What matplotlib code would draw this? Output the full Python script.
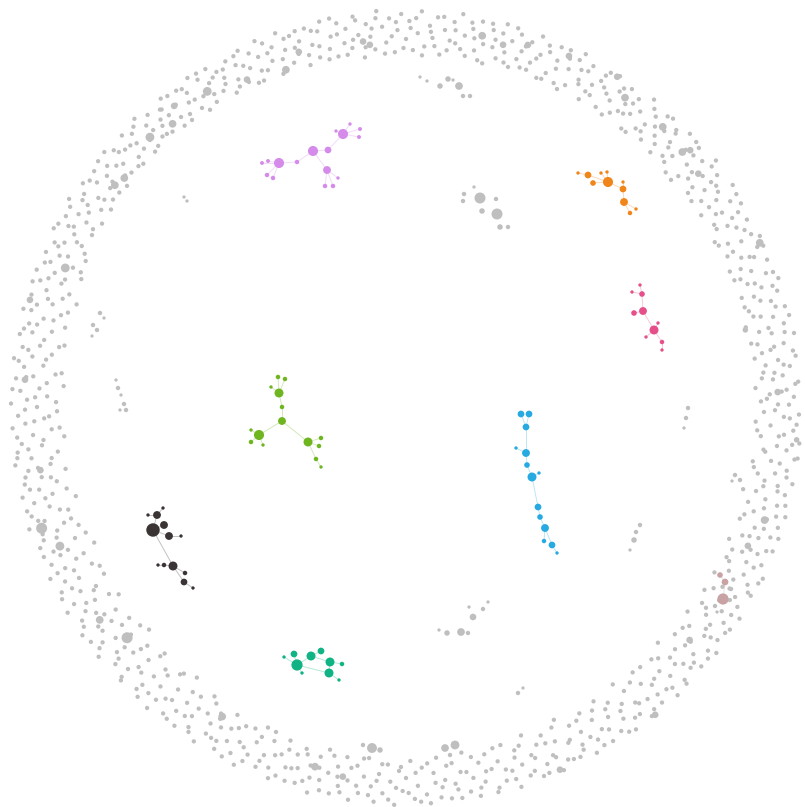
import numpy as np
import matplotlib
matplotlib.use("Agg")
import matplotlib.pyplot as plt

# Layout centre and node colours
center_x, center_y = 406, 407
gray = "#bfbfbf"

# Isolated nodes pushed to the outer ring: (angle in degrees, radius in px)
ring_small = [
    (0.4,372),(0.9,355),(1.5,388),(2.0,364),(2.6,381),(3.1,350),(3.7,393),(4.3,368),(4.8,378),(5.5,359),
    (6.1,386),(6.6,362),(7.2,375),(7.9,352),(8.3,391),(8.9,369),(9.6,383),(10.1,357),(10.8,395),(11.4,373),
    (12.0,361),(12.5,387),(13.2,349),(13.8,378),(14.3,366),(14.9,392),(15.6,356),(16.2,380),(16.7,370),(17.4,389),
    (18.0,353),(18.6,375),(19.1,394),(19.8,363),(20.4,384),(20.9,358),(21.5,371),(22.2,390),(22.7,351),(23.3,379),
    (24.0,367),(24.5,386),(25.1,355),(25.8,393),(26.3,374),(26.9,361),(27.6,382),(28.1,350),(28.8,389),(29.4,369),
    (30.1,377),(30.6,358),(31.3,392),(31.9,365),(32.4,384),(33.0,352),(33.7,373),(34.2,395),(34.9,360),(35.5,381),
    (36.0,369),(36.7,388),(37.2,354),(37.9,376),(38.5,396),(39.0,363),(39.7,385),(40.3,357),(40.8,371),(41.5,391),
    (42.1,350),(42.6,380),(43.3,366),(43.9,394),(44.4,359),(45.1,374),(45.7,387),(46.2,353),(46.9,378),(47.5,368),
    (48.0,391),(48.7,356),(49.3,383),(49.8,370),(50.5,361),(51.1,395),(51.6,377),(52.3,352),(52.9,386),(53.5,365),
    (54.1,374),(54.6,390),(55.3,358),(55.9,381),(56.4,368),(57.1,394),(57.7,355),(58.2,376),(58.9,387),(59.5,362),
    (60.0,372),(60.7,353),(61.2,389),(61.9,366),(62.5,380),(63.0,396),(63.7,359),(64.3,375),(64.8,385),(65.5,356),
    (66.1,370),(66.6,392),(67.3,362),(67.9,383),(68.4,354),(69.1,377),(69.7,395),(70.2,366),(70.9,386),(71.5,358),
    (72.0,374),(72.7,390),(73.3,355),(73.8,381),(74.5,368),(75.1,396),(75.6,360),(76.3,378),(76.9,387),(77.5,352),
    (78.0,371),(78.7,393),(79.2,363),(79.9,384),(80.5,356),(81.0,376),(81.7,397),(82.3,367),(82.8,388),(83.5,359),
    (84.1,379),(84.6,354),(85.3,391),(85.9,370),(86.4,382),(87.1,361),(87.7,396),(88.2,374),(88.9,357),(89.5,386),
    (90.0,368),(90.7,393),(91.3,377),(91.8,355),(92.5,389),(93.1,365),(93.6,381),(94.3,397),(94.9,359),(95.5,372),
    (96.0,385),(96.7,352),(97.3,375),(97.8,394),(98.5,363),(99.1,383),(99.6,369),(100.3,390),(100.9,357),(101.5,378),
    (102.0,366),(102.7,395),(103.3,386),(103.8,360),(104.5,374),(105.1,392),(105.6,355),(106.3,381),(106.9,369),(107.5,389),
    (108.0,362),(108.7,377),(109.3,396),(109.8,358),(110.5,384),(111.1,371),(111.6,391),(112.3,364),(112.9,380),(113.5,356),
    (114.0,387),(114.7,373),(115.3,394),(115.8,361),(116.5,382),(117.1,368),(117.6,390),(118.3,357),(118.9,376),(119.5,385),
    (120.0,365),(120.7,393),(121.3,379),(121.8,359),(122.5,388),(123.1,371),(123.6,395),(124.3,362),(124.9,383),(125.5,374),
    (126.0,391),(126.7,358),(127.3,380),(127.8,367),(128.5,394),(129.1,376),(129.6,386),(130.3,361),(130.9,372),(131.5,390),
    (132.0,364),(132.7,383),(133.3,396),(133.8,370),(134.5,358),(135.1,387),(135.6,377),(136.3,393),(136.9,366),(137.5,381),
    (138.0,360),(138.7,389),(139.3,373),(139.8,395),(140.5,364),(141.1,384),(141.6,356),(142.3,378),(142.9,391),(143.5,368),
    (144.0,382),(144.7,359),(145.3,393),(145.8,372),(146.5,386),(147.1,363),(147.6,377),(148.3,396),(148.9,355),(149.5,380),
    (150.0,369),(150.7,390),(151.3,358),(151.8,383),(152.5,374),(153.1,395),(153.6,362),(154.3,379),(154.9,388),(155.5,352),
    (156.0,370),(156.7,392),(157.3,361),(157.8,384),(158.5,349),(159.1,376),(159.6,394),(160.3,366),(160.9,387),(161.5,355),
    (162.0,378),(162.7,345),(163.3,391),(163.8,368),(164.5,383),(165.1,357),(165.6,395),(166.3,373),(166.9,350),(167.5,386),
    (168.0,362),(168.7,381),(169.3,393),(169.8,347),(170.5,371),(171.1,388),(171.6,358),(172.3,377),(172.9,395),(173.5,365),
    (174.0,384),(174.7,352),(175.3,374),(175.8,391),(176.5,343),(177.1,367),(177.6,386),(178.3,359),(178.9,379),(179.5,395),
    (180.0,369),(180.7,349),(181.3,388),(181.8,362),(182.5,381),(183.1,394),(183.6,355),(184.3,374),(184.9,343),(185.5,386),
    (186.0,366),(186.7,391),(187.3,351),(187.8,378),(188.5,395),(189.1,360),(189.6,383),(190.3,346),(190.9,371),(191.5,389),
    (192.0,357),(192.7,376),(193.3,394),(193.8,364),(194.5,384),(195.1,342),(195.6,370),(196.3,390),(196.9,353),(197.5,379),
    (198.0,396),(198.7,361),(199.3,385),(199.8,348),(200.5,373),(201.1,392),(201.6,356),(202.3,381),(202.9,367),(203.5,340),
    (204.0,388),(204.7,363),(205.3,377),(205.8,395),(206.5,351),(207.1,383),(207.6,369),(208.3,391),(208.9,345),(209.5,374),
    (210.0,358),(210.7,386),(211.3,396),(211.8,366),(212.5,380),(213.1,343),(213.6,372),(214.3,390),(214.9,354),(215.5,378),
    (216.0,364),(216.7,393),(217.3,348),(217.8,384),(218.5,371),(219.1,396),(219.6,357),(220.3,379),(220.9,340),(221.5,388),
    (222.0,367),(222.7,352),(223.3,382),(223.8,395),(224.5,361),(225.1,375),(225.6,345),(226.3,390),(226.9,369),(227.5,356),
    (228.0,385),(228.7,372),(229.3,397),(229.8,350),(230.5,378),(231.1,363),(231.6,391),(232.3,342),(232.9,381),(233.5,368),
    (234.0,394),(234.7,355),(235.3,376),(235.8,387),(236.5,347),(237.1,365),(237.6,396),(238.3,372),(238.9,358),(239.5,384),
    (240.0,370),(240.7,392),(241.3,351),(241.8,379),(242.5,362),(243.1,388),(243.6,374),(244.3,397),(244.9,355),(245.5,382),
    (246.0,367),(246.7,349),(247.3,390),(247.8,376),(248.5,359),(249.1,386),(249.6,396),(250.3,369),(250.9,353),(251.5,380),
    (252.0,393),(252.7,364),(253.3,377),(253.8,356),(254.5,388),(255.1,371),(255.6,398),(256.3,360),(256.9,383),(257.5,351),
    (258.0,374),(258.7,394),(259.3,366),(259.8,385),(260.5,355),(261.1,378),(261.6,397),(262.3,362),(262.9,389),(263.5,372),
    (264.0,353),(264.7,381),(265.3,396),(265.8,368),(266.5,387),(267.1,358),(267.6,375),(268.3,398),(268.9,364),(269.5,384),
    (270.0,371),(270.7,354),(271.3,392),(271.8,379),(272.5,361),(273.1,388),(273.6,397),(274.3,367),(274.9,352),(275.5,382),
    (276.0,375),(276.7,394),(277.3,359),(277.8,386),(278.5,369),(279.1,350),(279.6,390),(280.3,377),(280.9,396),(281.5,363),
    (282.0,383),(282.7,356),(283.3,372),(283.8,392),(284.5,366),(285.1,387),(285.6,351),(286.3,379),(286.9,397),(287.5,360),
    (288.0,376),(288.7,389),(289.3,348),(289.8,370),(290.5,394),(291.1,362),(291.6,384),(292.3,355),(292.9,378),(293.5,396),
    (294.0,366),(294.7,388),(295.3,346),(295.8,373),(296.5,391),(297.1,358),(297.6,381),(298.3,369),(298.9,395),(299.5,352),
    (300.0,384),(300.7,364),(301.3,377),(301.8,393),(302.5,349),(303.1,370),(303.6,389),(304.3,358),(304.9,380),(305.5,396),
    (306.0,367),(306.7,346),(307.3,386),(307.8,374),(308.5,395),(309.1,355),(309.6,379),(310.3,363),(310.9,391),(311.5,371),
    (312.0,350),(312.7,384),(313.3,396),(313.8,366),(314.5,377),(315.1,356),(315.6,390),(316.3,372),(316.9,345),(317.5,386),
    (318.0,362),(318.7,393),(319.3,379),(319.8,352),(320.5,369),(321.1,388),(321.6,396),(322.3,358),(322.9,382),(323.5,373),
    (324.0,348),(324.7,391),(325.3,365),(325.8,384),(326.5,355),(327.1,376),(327.6,395),(328.3,368),(328.9,387),(329.5,357),
    (330.0,380),(330.7,371),(331.3,393),(331.8,350),(332.5,385),(333.1,362),(333.6,377),(334.3,396),(334.9,354),(335.5,374),
    (336.0,389),(336.7,366),(337.3,381),(337.8,349),(338.5,394),(339.1,360),(339.6,376),(340.3,387),(340.9,369),(341.5,352),
    (342.0,391),(342.7,378),(343.3,363),(343.8,395),(344.5,355),(345.1,384),(345.6,371),(346.3,347),(346.9,389),(347.5,366),
    (348.0,380),(348.7,394),(349.3,358),(349.8,375),(350.5,386),(351.1,351),(351.6,369),(352.3,392),(352.9,362),(353.5,383),
    (354.0,373),(354.7,395),(355.3,356),(355.8,379),(356.5,388),(357.1,365),(357.6,350),(358.3,384),(358.9,393),(359.5,369),
]

# Second layer of ring nodes filling the gaps between the first
ring_fill = [
    (0.35,383),(1.3,361),(2.35,376),(3.4,390),(4.6,357),(5.3,370),(6.4,380),(7.5,393),(8.6,360),(9.3,373),(10.4,351),(11.2,386),
    (12.3,371),(13.5,394),(14.6,359),(15.2,383),(16.4,353),(17.6,365),(18.3,386),(19.5,370),(20.2,391),(21.1,352),(22.4,362),(23.6,375),
    (24.3,392),(25.4,362),(26.6,386),(27.3,352),(28.5,376),(29.8,358),(30.4,385),(31.6,371),(32.8,393),(33.4,363),(34.6,379),(35.8,352),
    (36.4,379),(37.5,361),(38.2,389),(39.4,370),(40.6,349),(41.2,382),(42.4,393),(43.5,356),(44.7,369),(45.4,384),(46.6,362),(47.2,393),
    (48.4,375),(49.6,362),(50.2,388),(51.4,352),(52.6,369),(53.2,379),(54.4,364),(55.6,386),(56.2,352),(57.4,372),(58.5,392),(59.1,380),
    (60.4,363),(61.5,382),(62.2,370),(63.4,388),(64.6,352),(65.2,393),(66.4,378),(67.6,355),(68.3,389),(69.5,372),(70.4,358),(71.6,380),
    (72.4,365),(73.5,395),(74.2,358),(75.4,386),(76.5,370),(77.2,393),(78.4,354),(79.5,375),(80.2,390),(81.4,362),(82.5,380),(83.2,369),
    (84.4,392),(85.5,362),(86.2,376),(87.4,352),(88.5,389),(89.3,379),(90.4,359),(91.5,385),(92.2,371),(93.4,354),(94.5,390),(95.2,380),
    (96.4,362),(97.5,390),(98.2,371),(99.4,357),(100.5,379),(101.2,396),(102.4,356),(103.5,371),(104.2,388),(105.4,365),(106.5,392),(107.2,376),
    (108.4,388),(109.5,369),(110.2,355),(111.4,380),(112.5,396),(113.2,366),(114.4,356),(115.5,378),(116.2,391),(117.4,361),(118.5,384),(119.2,370),
    (120.4,382),(121.5,367),(122.2,394),(123.4,356),(124.5,373),(125.2,389),(126.4,364),(127.5,392),(128.2,358),(129.4,385),(130.5,378),(131.2,363),
    (132.4,375),(133.5,360),(134.2,391),(135.4,368),(136.5,380),(137.2,358),(138.4,384),(139.5,361),(140.2,377),(141.4,394),(142.5,370),(143.2,358),
    (144.4,389),(145.5,366),(146.2,355),(147.4,384),(148.5,372),(149.2,391),(150.4,360),(151.5,378),(152.2,393),(153.4,368),(154.5,356),(155.2,383),
    (156.4,378),(157.5,352),(158.2,389),(159.5,364),(160.2,380),(161.4,394),(162.5,360),(163.2,374),(164.4,351),(165.5,387),(166.2,363),(167.4,378),
    (168.4,390),(169.5,368),(170.2,352),(171.4,382),(172.5,363),(173.2,390),(174.4,346),(175.5,381),(176.2,360),(177.4,394),(178.5,371),(179.2,350),
    (180.4,381),(181.5,357),(182.2,372),(183.4,347),(184.5,390),(185.2,364),(186.4,380),(187.5,392),(188.2,358),(189.4,373),(190.5,387),(191.2,362),
    (192.4,385),(193.5,349),(194.2,372),(195.4,393),(196.5,361),(197.2,385),(198.4,353),(199.5,370),(200.2,386),(201.4,344),(202.5,392),(203.2,376),
    (204.4,354),(205.5,386),(206.2,370),(207.4,345),(208.5,380),(209.2,394),(210.4,362),(211.5,375),(212.2,351),(213.4,388),(214.5,366),(215.2,396),
    (216.4,377),(217.5,358),(218.2,390),(219.4,344),(220.5,370),(221.2,382),(222.4,359),(223.5,392),(224.2,373),(225.4,350),(226.5,383),(227.2,395),
    (228.4,359),(229.5,385),(230.2,347),(231.4,375),(232.5,393),(233.2,356),(234.4,380),(235.5,366),(236.2,391),(237.4,352),(238.5,383),(239.2,363),
    (240.4,384),(241.5,366),(242.2,395),(243.4,357),(244.5,377),(245.2,390),(246.4,360),(247.5,383),(248.2,350),(249.4,372),(250.5,391),(251.2,362),
    (252.4,379),(253.5,392),(254.2,361),(255.4,383),(256.5,371),(257.2,393),(258.4,356),(259.5,376),(260.2,391),(261.4,365),(262.5,382),(263.2,354),
    (264.4,390),(265.5,375),(266.2,358),(267.4,393),(268.5,381),(269.2,360),(270.4,386),(271.5,366),(272.2,395),(273.4,357),(274.5,377),(275.2,392),
    (276.4,361),(277.5,380),(278.2,395),(279.4,370),(280.5,356),(281.2,388),(282.4,373),(283.5,396),(284.2,352),(285.4,376),(286.5,388),(287.2,367),
    (288.4,357),(289.5,386),(290.2,374),(291.4,393),(292.5,364),(293.2,381),(294.4,352),(295.5,390),(296.2,371),(297.4,386),(298.5,357),(299.2,378),
    (300.4,392),(301.5,356),(302.2,381),(303.4,362),(304.5,394),(305.2,372),(306.4,386),(307.5,358),(308.2,377),(309.4,391),(310.5,349),(311.2,382),
    (312.4,368),(313.5,387),(314.2,352),(315.4,394),(316.5,364),(317.2,378),(318.4,385),(319.5,367),(320.2,393),(321.4,354),(322.5,376),(323.2,389),
    (324.4,374),(325.5,393),(326.2,361),(327.4,386),(328.5,350),(329.2,377),(330.4,364),(331.5,389),(332.2,370),(333.4,394),(334.5,358),(335.2,383),
    (336.4,356),(337.5,373),(338.2,388),(339.4,367),(340.5,395),(341.2,378),(342.4,355),(343.5,386),(344.2,372),(345.4,392),(346.5,360),(347.2,381),
    (348.4,366),(349.5,387),(350.2,353),(351.4,378),(352.5,395),(353.2,360),(354.4,388),(355.5,374),(356.2,352),(357.4,391),(358.5,378),(359.2,358),
]

# Ring nodes with a higher degree: (angle, radius, diameter px)
ring_big = [
    (198.4,384,10),(201.9,373,8),(219.6,362,10),(157.8,368,8),(109.6,358,7),(95.7,364,6),
    (78.4,379,7),(47.5,380,7),(42.7,376,7),(38.6,374,6),(54.7,379,7),(65.1,387,6),
    (75.0,375,6),(71.4,382,6),(57.4,392,6),(133.5,372,8),(140.9,363,7),(142.7,366,7),
    (122.2,373,8),(129.5,367,7),(127.6,380,6),(96.7,368,6),(115.9,364,6),(106.8,371,6),
    (24.9,390,7),(342.5,376,7),(2.3,372,6),(337.9,369,6),(320.6,367,6),(309.0,396,6),
    (293.0,394,6),(255.8,371,7),(260.3,375,6),(239.3,360,7),(214.8,373,7),(175.9,382,6),
    (189.8,371,6),(164.1,391,6),(42.1,383,6),(12.8,348,5),(355.2,392,5),
]

# Small gray components inside the ring: x, y, diameter
inner_gray = [
    (464,194,4),(463,201,4),(474,187,3),(480,198,10),(482,211,5),(496,199,4),(497,214,10),(500,227,5),(508,227,4),
    (420,77,3),(427,81,3),(440,86,5),(448,79,5),(453,80,3),(459,86,7),(463,96,4),(470,96,4),
    (184,197,3),(187,201,3),
    (100,313,4),(104,318,3),(93,325,4),(97,330,4),(92,336,3),
    (116,380,3),(118,388,4),(121,395,3),(124,404,4),(126,410,4),(120,410,3),
    (688,408,4),(686,418,4),(684,428,3),
    (735,475,4),(740,480,4),(732,481,3),
    (640,525,4),(636,532,4),(634,540,5),(630,550,3),
    (469,607,3),(483,609,4),(488,602,3),(473,617,6),(439,630,3),(447,633,5),(461,632,7),(468,633,4),
    (518,693,4),(523,688,3),
    (372,748,9),(363,745,4),(380,750,5),(445,748,7),(455,745,8),(450,755,4),
    (715,606,4),(717,612,3),(731,589,4),
]

# Coloured components: nodes (x, y, diameter) and edges (index pairs)
purple_nodes = [(279,163,9),(297,162,4),(313,151,9),(328,150,6),(343,134,9),(327,170,7),
                (262,163,3.5),(268,161,3.5),(267,175,4),(273,178,4),(325,186,4),(333,186,4),
                (338,178,3),(336,131,3),(350,124,3),(360,129,3.5),(359,137,3.5)]
purple_edges = [(0,1),(1,2),(2,3),(3,4),(2,5),(0,6),(0,7),(0,8),(0,9),(5,10),(5,11),(5,12),
                (4,13),(4,14),(4,15),(4,16)]

orange_nodes = [(608,182,9),(588,175,6),(593,183,5),(578,173,3),(601,173,3),(607,172,3),
                (623,189,6),(623,182,3),(624,202,7),(630,213,4),(636,209,3)]
orange_edges = [(0,1),(1,3),(0,2),(0,4),(0,5),(0,6),(6,7),(6,8),(8,9),(8,10)]

pink_nodes = [(640,285,3),(642,294,5),(632,292,3),(634,313,5),(643,311,7),(654,330,8),
              (658,323,3),(646,337,3),(662,342,4),(662,350,3)]
pink_edges = [(0,1),(1,2),(1,4),(4,3),(4,5),(5,6),(5,7),(5,8),(8,9)]

green_nodes = [(278,377,4),(285,379,4),(271,387,3),(279,393,8),(282,407,4),(282,421,7),
               (259,435,9),(251,430,3),(251,442,4),(263,445,3),(308,442,8),(321,438,4),
               (319,446,4),(316,459,4),(321,467,3)]
green_edges = [(3,0),(3,1),(3,2),(3,4),(4,5),(5,6),(6,7),(6,8),(6,9),(5,10),(10,11),(10,12),
               (10,13),(13,14)]

blue_nodes = [(521,414,6),(529,414,6),(526,427,6),(516,448,3),(526,453,7),(527,465,5),
              (532,477,8),(539,473,3),(538,507,6),(540,517,5),(545,528,7),(544,541,4),
              (552,545,6),(557,553,3)]
blue_edges = [(0,2),(1,2),(2,4),(3,4),(4,5),(5,6),(6,7),(6,8),(8,9),(9,10),(10,11),(10,12),(12,13)]

black_nodes = [(163,508,3),(148,515,3),(157,515,7),(164,525,7),(153,530,12),(169,536,7),
               (181,536,3),(158,565,3),(164,565,4),(173,566,8),(185,573,4),(184,582,6),(193,588,3)]
black_edges = [(2,0),(2,1),(2,4),(3,4),(4,5),(5,6),(4,9),(7,8),(8,9),(9,10),(9,11),(11,12)]

teal_nodes = [(284,657,3),(294,654,6),(297,665,10),(311,656,8),(321,651,6),(330,662,8),
              (342,664,4),(329,673,8),(302,673,3),(339,680,3)]
teal_edges = [(0,2),(1,2),(2,3),(3,4),(3,5),(5,6),(5,7),(2,7),(2,8),(7,9)]

brown_nodes = [(720,575,5),(725,582,6),(723,599,10)]
brown_edges = [(0,1),(1,2)]

components = [
    (purple_nodes, purple_edges, "#d58be9"),
    (orange_nodes, orange_edges, "#f08519"),
    (pink_nodes, pink_edges, "#e6508a"),
    (green_nodes, green_edges, "#6fb51f"),
    (blue_nodes, blue_edges, "#27aae1"),
    (black_nodes, black_edges, "#3b3434"),
    (teal_nodes, teal_edges, "#10b383"),
    (brown_nodes, brown_edges, "#c9a3a3"),
]


def diam_to_s(d):
    # diameter in pixels -> scatter area in points^2 (dpi 100)
    return (np.asarray(d, dtype=float) * 0.72) ** 2


def polar_to_xy(ang, rad):
    t = np.radians(ang)
    return center_x + rad * np.cos(t), center_y - rad * np.sin(t)


fig = plt.figure(figsize=(8.05, 8.07), dpi=100)
ax = fig.add_axes([0, 0, 1, 1])
ax.set_xlim(0, 805)
ax.set_ylim(807, 0)
ax.axis("off")

# outer ring of isolated nodes
ring = np.array(ring_small + ring_fill, dtype=float)
rx, ry = polar_to_xy(ring[:, 0], ring[:, 1])
ax.scatter(rx, ry, s=diam_to_s(np.full(len(rx), 4.3)), color=gray, linewidths=0, zorder=2)

big = np.array(ring_big, dtype=float)
bx, by = polar_to_xy(big[:, 0], big[:, 1])
ax.scatter(bx, by, s=diam_to_s(big[:, 2] * 1.1), color=gray, linewidths=0, zorder=2)

inner = np.array(inner_gray, dtype=float)
ax.scatter(inner[:, 0], inner[:, 1], s=diam_to_s(inner[:, 2] * 1.1), color=gray,
           linewidths=0, zorder=2)

# coloured components with their edges
for nodes, edges, col in components:
    arr = np.array(nodes, dtype=float)
    for a, b in edges:
        ax.plot([arr[a, 0], arr[b, 0]], [arr[a, 1], arr[b, 1]], color=col, lw=0.7,
                alpha=0.3, zorder=1)
    ax.scatter(arr[:, 0], arr[:, 1], s=diam_to_s(arr[:, 2] * 1.12), color=col,
               linewidths=0, zorder=3)

fig.savefig("out.png", dpi=100, facecolor="white")
